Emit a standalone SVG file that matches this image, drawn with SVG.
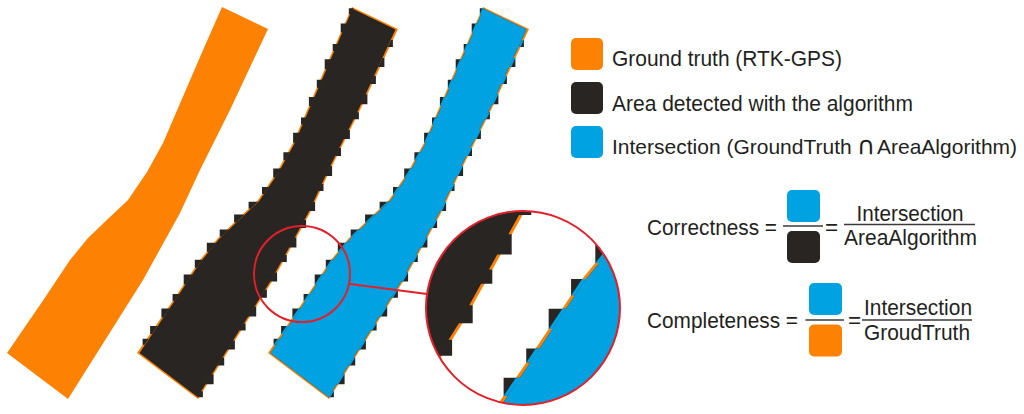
<svg xmlns="http://www.w3.org/2000/svg" xmlns:xlink="http://www.w3.org/1999/xlink" width="1024" height="414" viewBox="0 0 1024 414">
<style>
.o{fill:#fd8204}
.k{fill:#282522}
.b{fill:#00a2e1}
.t{font-family:"Liberation Sans",Arial,sans-serif;font-size:22.5px;fill:#231f20}
.s{font-size:21px}
.sym{font-family:"DejaVu Sans",sans-serif;font-size:25px;fill:#231f20}
.ring{fill:none;stroke:#e3202a;stroke-width:2}
.bar{stroke:#3a3a3a;stroke-width:1.5}
</style>
<defs>
<path id="strip" d="M222,7 L200,57 L163,143 L147,172 L128,200 L110,217 L88,238 L70,260 L42,302 L7,353 L68,399 L143,280 L180,213 L200,170 L230,110 L268,29 Z"/>
<g id="algo">
<path d="M222.5,8.8 L201.3,57.7 L164.3,143.7 L148.3,172.8 L129.2,201 L111,218.1 L89,239.1 L71.2,261 L43.3,302.8 L9.5,353 L67.6,397 L141.7,279.3 L178.7,212.3 L198.6,169.4 L228.6,109.4 L265.5,29.5 Z"/>
<path d="M218.8,14.3v-6h4.6l-2.6,6z M210.7,32.6v-9h6l-4,9z M202.7,51v-7h5.1l-3.1,7z M194.7,69.3v-10h6.3l-4.3,10z M186.8,87.7v-8h5.4l-3.4,8z M178.9,106.1v-9h5.9l-3.9,9z M171,124.5v-7h5l-3,7z M163.1,142.8v-10h6.3l-4.3,10z M153.4,160.3v-8h6.4l-4.4,8z M143.2,177.5v-9h8.1l-6.1,9z M132,194.1v-7h6.8l-4.8,7z M118.6,208.8v-7h9.4l-7.4,7z M104.1,222.6v-8h10.4l-8.4,8z M89.7,236.4v-7h9.4l-7.4,7z M76.8,251.7v-9h9.4l-7.4,9z M64.8,267.7v-8h7.4l-5.4,8z M53.7,284.4v-10h8.7l-6.7,10z M42.6,301v-7h6.7l-4.7,7z M31.4,317.5v-9h8.2l-6.2,9z M20.1,334v-8h7.5l-5.5,8z M12.6,344.8v-6h6.1l-4.1,6z"/>
<path d="M262.9,39.9v7h-5.3l3.3,-7z M254.4,58v9h-6.2l4.2,-9z M245.9,76.1v8h-5.8l3.8,-8z M237.4,94.2v10h-6.7l4.7,-10z M228.9,112.2v7h-5.5l3.5,-7z M219.9,130.1v9h-6.5l4.5,-9z M211,148v8h-6l4,-8z M202.1,165.9v10h-7l5,-10z M193.5,184v7h-5.3l3.3,-7z M185.1,202.1v9h-6.2l4.2,-9z M176.1,220v8h-6.4l4.4,-8z M166.4,237.5v10h-7.5l5.5,-10z M156.8,255v7h-5.9l3.9,-7z M147.1,272.6v9h-7l5,-9z M136.9,289.7v8h-7l5,-8z M126.2,306.6v10h-8.3l6.3,-10z M115.6,323.6v7h-6.4l4.4,-7z M104.9,340.5v9h-7.7l5.7,-9z M94.2,357.4v8h-7l5,-8z M83.6,374.3v10h-8.3l6.3,-10z M72.9,391.2v6h-5.8l3.8,-6z"/>
</g>
<clipPath id="clipStrip"><use xlink:href="#strip"/></clipPath>
<g id="panelK"><use xlink:href="#strip" class="o"/><use xlink:href="#algo" class="k"/></g>
<g id="panelB"><use xlink:href="#strip" class="o"/><use xlink:href="#algo" class="k"/><use xlink:href="#algo" class="b" clip-path="url(#clipStrip)"/></g>
<clipPath id="bigClip"><circle cx="523" cy="308" r="96.5"/></clipPath>
</defs>

<g id="ground-truth"><use xlink:href="#strip" class="o"/></g>
<g id="algorithm-area" transform="translate(130,0)"><use xlink:href="#panelK"/></g>
<g id="intersection" transform="translate(261,0)"><use xlink:href="#panelB"/></g>

<g id="zoom-small"><circle class="ring" cx="302" cy="274" r="48"/></g>

<g id="connectors"><line x1="350" y1="284" x2="427" y2="294" stroke="#e3202a" stroke-width="2"/></g>

<g id="zoom-big">
<circle cx="523" cy="308" r="97" fill="#fff"/>
<g clip-path="url(#bigClip)">
<g transform="translate(523,308) scale(2.02) translate(-302,-274)">
<use xlink:href="#panelK" transform="translate(130,0)"/>
<use xlink:href="#panelB" transform="translate(261,0)"/>
</g>
</g>
<circle class="ring" cx="523" cy="308" r="97" stroke-width="2.5"/>
</g>

<g id="legend-ground-truth"><rect class="o" x="571" y="38" width="32" height="32" rx="5"/><text class="t" x="612" y="65.5" textLength="230" lengthAdjust="spacingAndGlyphs">Ground truth (RTK-GPS)</text></g>
<g id="legend-algorithm"><rect class="k" x="571" y="82" width="32" height="32" rx="5"/><text class="t" x="612" y="110.5" textLength="301" lengthAdjust="spacingAndGlyphs">Area detected with the algorithm</text></g>
<g id="legend-intersection"><rect class="b" x="571" y="126" width="32" height="32" rx="5"/>
<text class="t s" x="612" y="153.5">Intersection (GroundTruth</text>
<text class="sym" x="857" y="153.5">∩</text>
<text class="t s" x="877" y="153.5">AreaAlgorithm)</text>
</g>

<g id="formula-correctness">
<text class="t" x="647" y="235" textLength="130" lengthAdjust="spacingAndGlyphs">Correctness =</text>
<rect class="b" x="787" y="190" width="33" height="32" rx="5"/>
<line class="bar" x1="783" y1="226" x2="823" y2="226"/>
<rect class="k" x="787" y="231" width="33" height="32" rx="5"/>
<text class="t" x="825" y="235">=</text>
<text class="t" x="856.5" y="221" textLength="107" lengthAdjust="spacingAndGlyphs">Intersection</text>
<line class="bar" x1="844" y1="224.5" x2="975" y2="224.5"/>
<text class="t" x="844" y="245" textLength="133" lengthAdjust="spacingAndGlyphs">AreaAlgorithm</text>
</g>

<g id="formula-completeness">
<text class="t" x="647" y="328" textLength="151" lengthAdjust="spacingAndGlyphs">Completeness =</text>
<rect class="b" x="809" y="283" width="33" height="32" rx="5"/>
<line class="bar" x1="805.5" y1="320" x2="844" y2="320"/>
<rect class="o" x="809" y="324.5" width="33" height="32" rx="5"/>
<text class="t" x="848" y="328">=</text>
<text class="t" x="864" y="315" textLength="108" lengthAdjust="spacingAndGlyphs">Intersection</text>
<line class="bar" x1="862" y1="320" x2="972" y2="320"/>
<text class="t" x="864" y="340" textLength="106" lengthAdjust="spacingAndGlyphs">GroudTruth</text>
</g>
</svg>
